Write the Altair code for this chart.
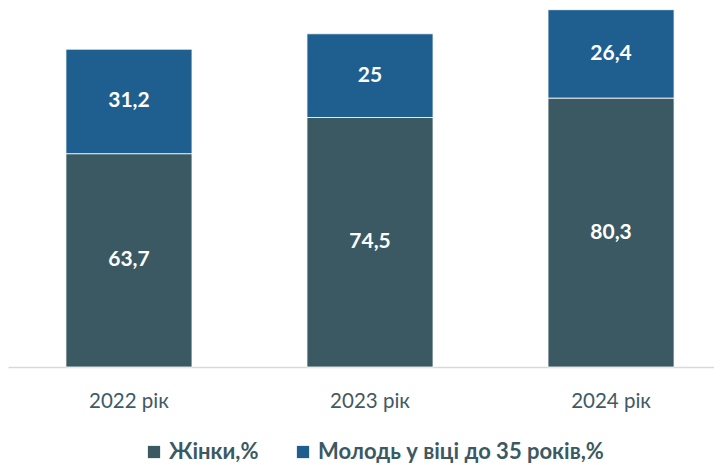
import altair as alt
import pandas as pd

years = ["2022 рік", "2023 рік", "2024 рік"]
series = ["Жінки,%", "Молодь у віці до 35 років,%"]
women = [63.7, 74.5, 80.3]
youth = [31.2, 25.0, 26.4]
women_lbl = ["63,7", "74,5", "80,3"]
youth_lbl = ["31,2", "25", "26,4"]

rows = []
for i, y in enumerate(years):
    rows.append({"year": y, "series": series[0], "value": women[i], "label": women_lbl[i], "ord": 0})
    rows.append({"year": y, "series": series[1], "value": youth[i], "label": youth_lbl[i], "ord": 1})
df = pd.DataFrame(rows)

FONT = "Lato"
DARK = "#3B5962"
BLUE = "#1F5F8F"

x = alt.X("year:N", sort=years, title=None,
          scale=alt.Scale(paddingInner=0.477, paddingOuter=0.203, align=0.592),
          axis=alt.Axis(labelAngle=0, labelFontSize=20.5, labelFont=FONT, labelColor="#3F5A63",
                        labelPadding=24, ticks=False, domainColor="#D9D9D9", domainWidth=1.5))
y = alt.Y("value:Q", stack="zero", title=None,
          scale=alt.Scale(domain=[0, 107.2], nice=False), axis=None)

bars = alt.Chart(df).mark_bar(stroke="white", strokeWidth=0.8).encode(
    x=x, y=y,
    color=alt.Color("series:N", sort=series,
                    scale=alt.Scale(domain=series, range=[DARK, BLUE]),
                    legend=alt.Legend(title=None, orient="none", legendX=135, legendY=433,
                                      direction="horizontal", symbolType="square", symbolSize=150,
                                      symbolStrokeWidth=0, labelFont=FONT, labelFontSize=22,
                                      labelFontWeight="bold", labelColor=DARK, columnPadding=33,
                                      labelOffset=4, labelLimit=400)),
    order=alt.Order("ord:Q"),
)

text = alt.Chart(df).mark_text(color="white", font=FONT, fontSize=21, fontWeight="bold").encode(
    x=alt.X("year:N", sort=years),
    y=alt.Y("value:Q", stack="zero", bandPosition=0.5),
    detail="series:N",
    order=alt.Order("ord:Q"),
    text="label:N",
)

chart = alt.layer(bars, text).properties(width=706, height=359, padding=0).configure_view(stroke=None)

chart.save("out.html", embed_options={"renderer": "svg", "actions": False})
